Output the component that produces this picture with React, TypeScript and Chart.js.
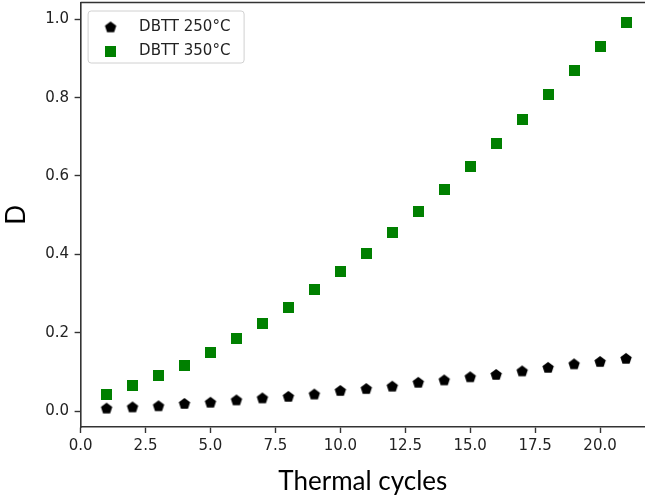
import { useEffect, useRef } from 'react';
import { Chart, registerables } from 'chart.js';

Chart.register(...registerables);

const cycles = [1, 2, 3, 4, 5, 6, 7, 8, 9, 10, 11, 12, 13, 14, 15, 16, 17, 18, 19, 20, 21];
const dbtt250 = [0.006, 0.009, 0.012, 0.018, 0.021, 0.027, 0.032, 0.036, 0.042, 0.051, 0.056, 0.062, 0.072, 0.078, 0.086, 0.092, 0.101, 0.110, 0.119, 0.125, 0.133];
const dbtt350 = [0.043, 0.064, 0.091, 0.117, 0.150, 0.184, 0.224, 0.265, 0.310, 0.357, 0.403, 0.456, 0.509, 0.565, 0.624, 0.683, 0.745, 0.807, 0.869, 0.930, 0.992];
const seriesLabels = ['DBTT 250°C', 'DBTT 350°C'];
const xTicks = [0, 2.5, 5, 7.5, 10, 12.5, 15, 17.5, 20];
const yTicks = [0, 0.2, 0.4, 0.6, 0.8, 1.0];
const xTitle = 'Thermal cycles';
const yTitle = 'D';

function makePentagon(color: string, r: number) {
  const size = 14;
  const c = document.createElement('canvas');
  c.width = size;
  c.height = size;
  const ctx = c.getContext('2d')!;
  ctx.fillStyle = color;
  ctx.beginPath();
  for (let i = 0; i < 5; i++) {
    const a = -Math.PI / 2 + (i * 2 * Math.PI) / 5;
    const px = size / 2 + r * Math.cos(a);
    const py = size / 2 + r * Math.sin(a);
    if (i === 0) ctx.moveTo(px, py);
    else ctx.lineTo(px, py);
  }
  ctx.closePath();
  ctx.fill();
  return c;
}

function makeSquare(color: string, side: number) {
  const c = document.createElement('canvas');
  c.width = side;
  c.height = side;
  const ctx = c.getContext('2d')!;
  ctx.fillStyle = color;
  ctx.fillRect(0, 0, side, side);
  return c;
}

const framePlugin = {
  id: 'frameAndLegendBox',
  beforeDraw(chart: any) {
    const { ctx, chartArea: a } = chart;
    ctx.save();
    ctx.fillStyle = 'rgba(255,255,255,0.8)';
    ctx.strokeStyle = '#d0d0d0';
    ctx.lineWidth = 1;
    ctx.beginPath();
    ctx.roundRect(a.left + 7.5, a.top + 8.5, 156, 52, 3);
    ctx.fill();
    ctx.stroke();
    ctx.restore();
  },
  afterDraw(chart: any) {
    const { ctx, chartArea: a } = chart;
    ctx.save();
    ctx.strokeStyle = '#333';
    ctx.lineWidth = 1.6;
    ctx.beginPath();
    ctx.moveTo(a.left, a.top);
    ctx.lineTo(a.right, a.top);
    ctx.stroke();
    ctx.restore();
  },
};

function zeroPad(s: any) {
  s.paddingTop = 0;
  s.paddingBottom = 0;
  s.paddingLeft = 0;
  s.paddingRight = 0;
}

export default function App() {
  const ref = useRef<HTMLCanvasElement | null>(null);

  useEffect(() => {
    if (!ref.current) return;
    const pent = makePentagon('#000000', 6);
    const sq = makeSquare('#008000', 11);
    const tickFont = { family: 'DejaVu Sans', size: 15 };
    const titleFont = { family: 'Lato', size: 26 };
    const chart = new Chart(ref.current, {
      type: 'scatter',
      data: {
        datasets: [
          {
            label: seriesLabels[0],
            data: cycles.map((c, i) => ({ x: c, y: dbtt250[i] })),
            pointStyle: pent as any,
            backgroundColor: '#000000',
            borderColor: '#000000',
            showLine: false,
          },
          {
            label: seriesLabels[1],
            data: cycles.map((c, i) => ({ x: c, y: dbtt350[i] })),
            pointStyle: sq as any,
            backgroundColor: '#008000',
            borderColor: '#008000',
            showLine: false,
          },
        ],
      },
      options: {
        animation: false,
        responsive: false,
        maintainAspectRatio: false,
        layout: { autoPadding: false, padding: { top: 2.5, left: 0, right: 0, bottom: 0 } },
        scales: {
          x: {
            type: 'linear',
            min: 0,
            max: 21.73,
            afterFit: (s: any) => {
              s.height = 74;
              zeroPad(s);
            },
            afterBuildTicks: (s: any) => {
              s.ticks = xTicks.map((v) => ({ value: v }));
            },
            ticks: {
              callback: (v: any) => Number(v).toFixed(1),
              font: tickFont,
              color: '#222',
              padding: 4,
              autoSkip: false,
              maxRotation: 0,
            },
            grid: {
              display: true,
              drawOnChartArea: false,
              drawTicks: true,
              tickLength: 6,
              tickWidth: 1.4,
              tickColor: '#333',
            },
            border: { display: true, color: '#333', width: 1.6 },
            title: {
              display: true,
              text: xTitle,
              font: titleFont,
              color: '#000',
              padding: { top: 0, bottom: 4.2 },
            },
          },
          y: {
            type: 'linear',
            min: -0.0408,
            max: 1.0429,
            afterFit: (s: any) => {
              s.width = 80.6;
              zeroPad(s);
            },
            afterBuildTicks: (s: any) => {
              s.ticks = yTicks.map((v) => ({ value: v }));
            },
            ticks: {
              callback: (v: any) => Number(v).toFixed(1),
              font: tickFont,
              color: '#222',
              padding: 5.5,
              autoSkip: false,
            },
            grid: {
              display: true,
              drawOnChartArea: false,
              drawTicks: true,
              tickLength: 6,
              tickWidth: 1.4,
              tickColor: '#333',
            },
            border: { display: true, color: '#333', width: 1.6 },
            title: {
              display: true,
              text: yTitle,
              font: titleFont,
              color: '#000',
              padding: { top: 1, bottom: 0 },
            },
          },
        },
        plugins: {
          legend: {
            position: 'chartArea' as any,
            align: 'start',
            title: { display: true, text: ' ', padding: { top: 5, bottom: 0 }, font: { size: 5 } },
            labels: {
              usePointStyle: true,
              pointStyleWidth: 42,
              padding: 9,
              font: tickFont,
              color: '#222',
            },
          },
          tooltip: { enabled: false },
        },
      },
      plugins: [framePlugin],
    });
    return () => chart.destroy();
  }, []);

  return (
    <div style={{ position: 'absolute', left: 0, top: 0, width: 645, height: 501, background: '#fff' }}>
      <canvas ref={ref} width={645} height={501} style={{ display: 'block' }} />
    </div>
  );
}
